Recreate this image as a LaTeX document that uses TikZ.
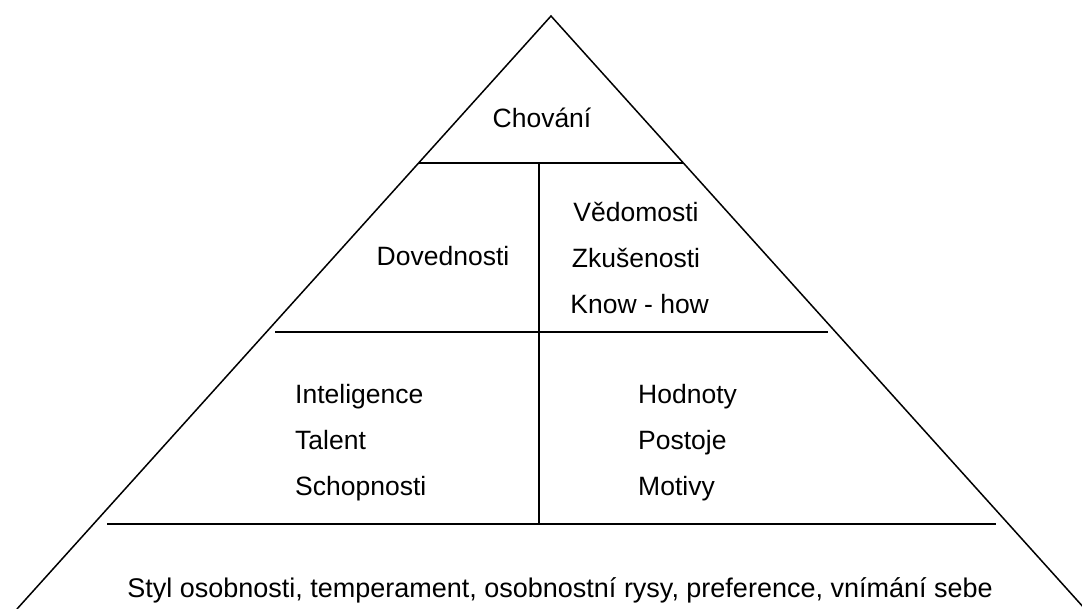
\documentclass[tikz,border=0pt]{standalone}
\usepackage{fontspec}
\setmainfont{Liberation Sans}
\usetikzlibrary{positioning}
\tikzset{
  side/.style={line width=1.5pt},
  level/.style={line width=2.2pt},
  split/.style={line width=1.8pt},
  lbl/.style={inner sep=0pt,font=\fontsize{26.5}{46}\selectfont},
  lst/.style={lbl,align=left,anchor=west}
}

\begin{document}
\begin{tikzpicture}[x=1pt,y=-1pt]

\useasboundingbox (0,0) rectangle (1082,609);

\coordinate (apex) at (551,16);
\coordinate (baseL) at (17,609);
\coordinate (baseR) at (1085,609);
\draw[side] (baseL) -- (apex) -- (baseR);

\coordinate (top1) at (419,163);
\coordinate (top2) at (683,163);
\coordinate (mid1) at (275,332);
\coordinate (mid2) at (828,332);
\coordinate (bot1) at (107,524);
\coordinate (bot2) at (996,524);
\coordinate (splitT) at (539,163);
\coordinate (splitB) at (539,524);

\draw[level] (top1) -- (top2);
\draw[level] (mid1) -- (mid2);
\draw[level] (bot1) -- (bot2);
\draw[split] (splitT) -- (splitB);

\node[lbl] (chovani) at (542,118) {Chování};

\node[lbl] (dovednosti) at (443,256) {Dovednosti};

\node[lbl,align=center] (vedomosti) at (636,258)
{
  Vědomosti\\
  Zkušenosti\\
  \ Know - how
};

\node[lst] (inteligence) at (295,443)
{
  Inteligence\\
  Talent\\
  Schopnosti
};

\node[lst] (hodnoty) at (638,443)
{
  Hodnoty\\
  Postoje\\
  Motivy
};

\node[lbl,font=\fontsize{27}{46}\selectfont] (styl) at (560,590)
{
  Styl osobnosti, temperament, osobnostní rysy, preference, vnímání sebe
};

\end{tikzpicture}
\end{document}
